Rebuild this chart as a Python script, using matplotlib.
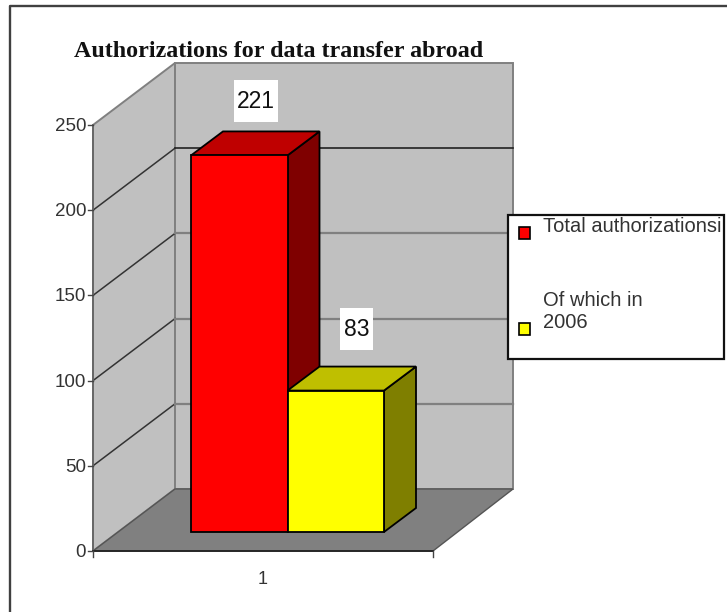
import matplotlib
matplotlib.use("Agg")
import matplotlib.pyplot as plt
from matplotlib.patches import Polygon, Rectangle

title = "Authorizations for data transfer abroad"
series_names = ["Total authorizationsi", "Of which in\n2006"]
series_values = [221, 83]
series_front = ["#ff0000", "#ffff00"]
series_top = ["#bf0000", "#bfbf00"]
series_side = ["#7f0000", "#7f7f00"]
y_ticks = [0, 50, 100, 150, 200, 250]
x_label = "1"

W, H = 727, 612
Y0_PX = 551
PX_PER_UNIT = 426 / 250


def px(p):
    # pixel row in the reference -> value on the y axis
    return (Y0_PX - p) / PX_PER_UNIT


fig = plt.figure(figsize=(W / 100, H / 100), dpi=100)
ax = fig.add_axes([0, 0, 1, 1])
ax.set_xlim(0, W)
ax.set_ylim(px(H), px(0))
ax.axis("off")

plt.rcParams["font.family"] = "Liberation Sans"

# outer frame, only left and top are in the picture
ax.plot([10, 10, W], [px(H), px(6.5), px(6.5)], color="#404040", lw=1.7, zorder=1)

# walls and floor
left, right = 93, 433
dx, dy = 82, 62 / PX_PER_UNIT
top = y_ticks[-1]
ax.add_patch(Polygon([(left, 0), (left + dx, dy), (left + dx, top + dy), (left, top)],
                     fc="#c0c0c0", ec="#808080", lw=1.4, zorder=2))
ax.add_patch(Polygon([(left + dx, dy), (right + dx - 2, dy), (right + dx - 2, top + dy), (left + dx, top + dy)],
                     fc="#c0c0c0", ec="#808080", lw=1.4, zorder=2))
ax.add_patch(Polygon([(left, 0), (right, 0), (right + dx - 2, dy), (left + dx, dy)],
                     fc="#808080", ec="#555555", lw=1, zorder=3))

# gridlines
for v in y_ticks[1:-1]:
    ax.plot([left, left + dx], [v, v + dy], color="#333333", lw=1.1, zorder=3)
    if v == 200:
        ax.plot([left + dx, right + dx - 2], [v + dy, v + dy], color="#222222", lw=1.2, zorder=3)
    else:
        ax.plot([left + dx, right + dx - 2], [v + dy, v + dy], color="#808080", lw=1.6, zorder=3)

# axis lines and ticks
ax.plot([left, left], [0, top], color="#666666", lw=1.3, zorder=4)
ax.plot([left, right], [0, 0], color="#222222", lw=1.3, zorder=4)
for v in y_ticks:
    ax.plot([left - 5, left], [v, v], color="#444444", lw=1, zorder=4)
    ax.text(left - 7, v - 1.5 / PX_PER_UNIT, str(v), ha="right", va="center", fontsize=13.5,
            color="#333333", zorder=4)
for x in [left, right]:
    ax.plot([x, x], [0, px(Y0_PX + 6)], color="#444444", lw=1, zorder=4)
ax.text(263, px(580), x_label, ha="center", va="center", fontsize=13, color="#333333")

# bars, the later one sits over the side of the earlier one
bar_x = 191
bar_w = 96.5
base = px(532)
bar_dx, bar_dy = 32, 24 / PX_PER_UNIT
for i, val in enumerate(series_values):
    x0 = bar_x + i * bar_w
    x1 = x0 + bar_w
    yt = base + val
    z = 5 + i
    ax.add_patch(Polygon([(x1, base), (x1 + bar_dx, base + bar_dy), (x1 + bar_dx, yt + bar_dy), (x1, yt)],
                         fc=series_side[i], ec="black", lw=1.3, zorder=z))
    ax.add_patch(Polygon([(x0, yt), (x1, yt), (x1 + bar_dx, yt + bar_dy), (x0 + bar_dx, yt + bar_dy)],
                         fc=series_top[i], ec="black", lw=1.3, zorder=z))
    ax.add_patch(Rectangle((x0, base), bar_w, val, fc=series_front[i], ec="black", lw=1.3, zorder=z))

# value labels on white boxes
for val, box, py in zip(series_values, [(234, 278, 80, 122), (340, 373, 308, 350)], [101, 330]):
    ax.add_patch(Rectangle((box[0], px(box[3])), box[1] - box[0], px(box[2]) - px(box[3]),
                           fc="white", ec="none", zorder=8))
    ax.text((box[0] + box[1]) / 2, px(py), str(val), ha="center", va="center", fontsize=16.5,
            color="#111111", zorder=9)

# legend
ax.add_patch(Rectangle((507.5, px(359)), 216.5, px(215) - px(359), fc="white", ec="#111111", lw=1.6, zorder=10))
for name, color, sq_y, ty in zip(series_names, series_front, [233.5, 329.5], [227, 311]):
    ax.add_patch(Rectangle((519, px(sq_y + 6)), 11, 12 / PX_PER_UNIT, fc=color, ec="black", lw=1.2, zorder=11))
    ax.text(543, px(ty), name, ha="left", va="center", fontsize=14.5, color="#333333", zorder=11, linespacing=1.2)

ax.text(74, px(52), title, ha="left", va="center", fontsize=17.3, fontweight="bold",
        family="Liberation Serif", color="#111111", zorder=12)

fig.savefig("out.png", dpi=100)
